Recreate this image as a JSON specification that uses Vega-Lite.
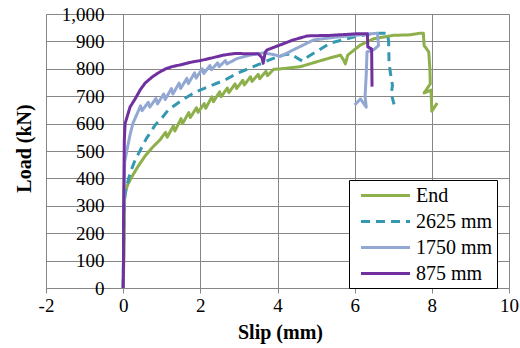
{
  "$schema": "https://vega.github.io/schema/vega-lite/v6.json",
  "width": 463,
  "height": 274,
  "autosize": {"type": "none"},
  "padding": {"left": 46, "top": 14, "right": 11, "bottom": 60},
  "background": "white",
  "config": {
    "view": {"stroke": null},
    "font": "Liberation Serif",
    "style": {
      "guide-label": {"font": "Liberation Serif", "fontSize": 19, "fill": "black"},
      "guide-title": {"font": "Liberation Serif", "fontSize": 20, "fontWeight": "bold", "fill": "black"}
    },
    "axis": {"labelFont": "Liberation Serif", "titleFont": "Liberation Serif"},
    "legend": {"labelFont": "Liberation Serif"}
  },
  "datasets": {
    "curves": [
      {"series": "End", "slip": 0, "load": 0},
      {"series": "End", "slip": 0.02, "load": 120},
      {"series": "End", "slip": 0.03, "load": 250},
      {"series": "End", "slip": 0.04, "load": 345},
      {"series": "End", "slip": 0.12, "load": 378},
      {"series": "End", "slip": 0.25, "load": 412},
      {"series": "End", "slip": 0.4, "load": 447},
      {"series": "End", "slip": 0.57, "load": 482},
      {"series": "End", "slip": 0.75, "load": 512},
      {"series": "End", "slip": 0.95, "load": 540},
      {"series": "End", "slip": 1.1, "load": 568},
      {"series": "End", "slip": 1.14, "load": 550},
      {"series": "End", "slip": 1.3, "load": 591},
      {"series": "End", "slip": 1.34, "load": 573},
      {"series": "End", "slip": 1.5, "load": 618},
      {"series": "End", "slip": 1.54, "load": 600},
      {"series": "End", "slip": 1.7, "load": 640},
      {"series": "End", "slip": 1.74, "load": 622},
      {"series": "End", "slip": 1.9, "load": 658},
      {"series": "End", "slip": 1.94, "load": 641},
      {"series": "End", "slip": 2.1, "load": 673},
      {"series": "End", "slip": 2.14, "load": 656},
      {"series": "End", "slip": 2.3, "load": 698},
      {"series": "End", "slip": 2.34, "load": 680},
      {"series": "End", "slip": 2.5, "load": 716},
      {"series": "End", "slip": 2.54, "load": 698},
      {"series": "End", "slip": 2.7, "load": 730},
      {"series": "End", "slip": 2.74, "load": 713},
      {"series": "End", "slip": 2.9, "load": 745},
      {"series": "End", "slip": 2.94, "load": 728},
      {"series": "End", "slip": 3.1, "load": 758},
      {"series": "End", "slip": 3.14, "load": 741},
      {"series": "End", "slip": 3.3, "load": 771},
      {"series": "End", "slip": 3.34, "load": 754},
      {"series": "End", "slip": 3.5, "load": 780},
      {"series": "End", "slip": 3.54, "load": 764},
      {"series": "End", "slip": 3.7, "load": 791},
      {"series": "End", "slip": 3.74, "load": 775},
      {"series": "End", "slip": 3.9, "load": 798},
      {"series": "End", "slip": 4.1, "load": 800},
      {"series": "End", "slip": 4.6, "load": 808},
      {"series": "End", "slip": 4.93, "load": 822},
      {"series": "End", "slip": 5.37, "load": 840},
      {"series": "End", "slip": 5.63, "load": 850},
      {"series": "End", "slip": 5.7, "load": 835},
      {"series": "End", "slip": 5.76, "load": 818},
      {"series": "End", "slip": 5.82, "load": 850},
      {"series": "End", "slip": 6.15, "load": 887},
      {"series": "End", "slip": 6.5, "load": 910},
      {"series": "End", "slip": 7.0, "load": 922},
      {"series": "End", "slip": 7.44, "load": 924},
      {"series": "End", "slip": 7.7, "load": 930},
      {"series": "End", "slip": 7.78, "load": 930},
      {"series": "End", "slip": 7.8, "load": 885},
      {"series": "End", "slip": 7.92, "load": 862},
      {"series": "End", "slip": 7.95, "load": 800},
      {"series": "End", "slip": 7.96, "load": 745},
      {"series": "End", "slip": 7.8, "load": 712},
      {"series": "End", "slip": 7.98, "load": 722},
      {"series": "End", "slip": 8.0, "load": 645},
      {"series": "End", "slip": 8.14, "load": 675},

      {"series": "2625 mm", "slip": 0, "load": 0},
      {"series": "2625 mm", "slip": 0.01, "load": 120},
      {"series": "2625 mm", "slip": 0.02, "load": 250},
      {"series": "2625 mm", "slip": 0.03, "load": 320},
      {"series": "2625 mm", "slip": 0.08, "load": 365},
      {"series": "2625 mm", "slip": 0.18, "load": 420},
      {"series": "2625 mm", "slip": 0.31, "load": 467},
      {"series": "2625 mm", "slip": 0.45, "load": 505},
      {"series": "2625 mm", "slip": 0.6, "load": 545},
      {"series": "2625 mm", "slip": 0.83, "load": 595},
      {"series": "2625 mm", "slip": 1.0, "load": 620},
      {"series": "2625 mm", "slip": 1.17, "load": 650},
      {"series": "2625 mm", "slip": 1.53, "load": 686},
      {"series": "2625 mm", "slip": 1.87, "load": 715},
      {"series": "2625 mm", "slip": 2.2, "load": 734},
      {"series": "2625 mm", "slip": 2.65, "load": 760},
      {"series": "2625 mm", "slip": 2.98, "load": 785},
      {"series": "2625 mm", "slip": 3.5, "load": 815},
      {"series": "2625 mm", "slip": 3.89, "load": 838},
      {"series": "2625 mm", "slip": 4.07, "load": 848},
      {"series": "2625 mm", "slip": 4.35, "load": 855},
      {"series": "2625 mm", "slip": 4.5, "load": 840},
      {"series": "2625 mm", "slip": 4.65, "load": 828},
      {"series": "2625 mm", "slip": 4.8, "load": 845},
      {"series": "2625 mm", "slip": 5.37, "load": 894},
      {"series": "2625 mm", "slip": 5.97, "load": 916},
      {"series": "2625 mm", "slip": 6.3, "load": 925},
      {"series": "2625 mm", "slip": 6.67, "load": 930},
      {"series": "2625 mm", "slip": 6.85, "load": 930},
      {"series": "2625 mm", "slip": 6.88, "load": 900},
      {"series": "2625 mm", "slip": 6.89, "load": 830},
      {"series": "2625 mm", "slip": 6.92, "load": 790},
      {"series": "2625 mm", "slip": 6.98, "load": 740},
      {"series": "2625 mm", "slip": 6.95, "load": 710},
      {"series": "2625 mm", "slip": 7.02, "load": 670},

      {"series": "1750 mm", "slip": 0, "load": 0},
      {"series": "1750 mm", "slip": 0.01, "load": 150},
      {"series": "1750 mm", "slip": 0.02, "load": 320},
      {"series": "1750 mm", "slip": 0.04, "load": 460},
      {"series": "1750 mm", "slip": 0.1, "load": 505},
      {"series": "1750 mm", "slip": 0.18, "load": 560},
      {"series": "1750 mm", "slip": 0.25, "load": 600},
      {"series": "1750 mm", "slip": 0.39, "load": 645},
      {"series": "1750 mm", "slip": 0.45, "load": 665},
      {"series": "1750 mm", "slip": 0.49, "load": 647},
      {"series": "1750 mm", "slip": 0.65, "load": 678},
      {"series": "1750 mm", "slip": 0.69, "load": 660},
      {"series": "1750 mm", "slip": 0.85, "load": 692},
      {"series": "1750 mm", "slip": 0.89, "load": 672},
      {"series": "1750 mm", "slip": 1.05, "load": 708},
      {"series": "1750 mm", "slip": 1.09, "load": 688},
      {"series": "1750 mm", "slip": 1.25, "load": 728},
      {"series": "1750 mm", "slip": 1.29, "load": 708},
      {"series": "1750 mm", "slip": 1.45, "load": 748},
      {"series": "1750 mm", "slip": 1.49, "load": 728},
      {"series": "1750 mm", "slip": 1.65, "load": 765},
      {"series": "1750 mm", "slip": 1.69, "load": 746},
      {"series": "1750 mm", "slip": 1.85, "load": 785},
      {"series": "1750 mm", "slip": 1.89, "load": 766},
      {"series": "1750 mm", "slip": 2.05, "load": 800},
      {"series": "1750 mm", "slip": 2.09, "load": 783},
      {"series": "1750 mm", "slip": 2.25, "load": 812},
      {"series": "1750 mm", "slip": 2.29, "load": 797},
      {"series": "1750 mm", "slip": 2.45, "load": 822},
      {"series": "1750 mm", "slip": 2.49, "load": 808},
      {"series": "1750 mm", "slip": 2.65, "load": 830},
      {"series": "1750 mm", "slip": 2.69, "load": 818},
      {"series": "1750 mm", "slip": 2.96, "load": 838},
      {"series": "1750 mm", "slip": 3.29, "load": 850},
      {"series": "1750 mm", "slip": 3.63, "load": 858},
      {"series": "1750 mm", "slip": 3.9, "load": 852},
      {"series": "1750 mm", "slip": 4.07, "load": 845},
      {"series": "1750 mm", "slip": 4.41, "load": 869},
      {"series": "1750 mm", "slip": 4.93, "load": 905},
      {"series": "1750 mm", "slip": 5.55, "load": 916},
      {"series": "1750 mm", "slip": 6.07, "load": 923},
      {"series": "1750 mm", "slip": 6.59, "load": 930},
      {"series": "1750 mm", "slip": 6.62, "load": 885},
      {"series": "1750 mm", "slip": 6.5, "load": 870},
      {"series": "1750 mm", "slip": 6.32, "load": 862},
      {"series": "1750 mm", "slip": 6.3, "load": 780},
      {"series": "1750 mm", "slip": 6.27, "load": 700},
      {"series": "1750 mm", "slip": 6.3, "load": 660},
      {"series": "1750 mm", "slip": 6.15, "load": 690},
      {"series": "1750 mm", "slip": 6.0, "load": 668},

      {"series": "875 mm", "slip": 0, "load": 0},
      {"series": "875 mm", "slip": 0.01, "load": 100},
      {"series": "875 mm", "slip": 0.01, "load": 250},
      {"series": "875 mm", "slip": 0.02, "load": 400},
      {"series": "875 mm", "slip": 0.03, "load": 540},
      {"series": "875 mm", "slip": 0.05, "load": 600},
      {"series": "875 mm", "slip": 0.18, "load": 661},
      {"series": "875 mm", "slip": 0.31, "load": 690},
      {"series": "875 mm", "slip": 0.45, "load": 725},
      {"series": "875 mm", "slip": 0.57, "load": 748},
      {"series": "875 mm", "slip": 0.75, "load": 770},
      {"series": "875 mm", "slip": 0.91, "load": 785},
      {"series": "875 mm", "slip": 1.1, "load": 800},
      {"series": "875 mm", "slip": 1.27, "load": 808},
      {"series": "875 mm", "slip": 1.5, "load": 815},
      {"series": "875 mm", "slip": 1.79, "load": 825},
      {"series": "875 mm", "slip": 2.0, "load": 830},
      {"series": "875 mm", "slip": 2.31, "load": 840},
      {"series": "875 mm", "slip": 2.6, "load": 850},
      {"series": "875 mm", "slip": 2.9, "load": 856},
      {"series": "875 mm", "slip": 3.2, "load": 855},
      {"series": "875 mm", "slip": 3.5, "load": 855},
      {"series": "875 mm", "slip": 3.6, "load": 840},
      {"series": "875 mm", "slip": 3.63, "load": 820},
      {"series": "875 mm", "slip": 3.68, "load": 860},
      {"series": "875 mm", "slip": 3.73, "load": 869},
      {"series": "875 mm", "slip": 4.07, "load": 887},
      {"series": "875 mm", "slip": 4.4, "load": 905},
      {"series": "875 mm", "slip": 4.77, "load": 920},
      {"series": "875 mm", "slip": 5.37, "load": 922},
      {"series": "875 mm", "slip": 6.07, "load": 928},
      {"series": "875 mm", "slip": 6.33, "load": 928},
      {"series": "875 mm", "slip": 6.34, "load": 880},
      {"series": "875 mm", "slip": 6.44, "load": 872},
      {"series": "875 mm", "slip": 6.45, "load": 735}
    ]
  },
  "data": {"name": "curves"},
  "mark": {"type": "line", "strokeWidth": 3, "strokeJoin": "round"},
  "encoding": {
    "x": {
      "field": "slip",
      "type": "quantitative",
      "scale": {"domain": [-2, 10], "nice": false, "zero": false},
      "axis": {
        "title": "Slip (mm)",
        "values": [-2, 0, 2, 4, 6, 8, 10],
        "labelExpr": "'' + datum.value",
        "grid": true,
        "gridColor": "#868686",
        "domainColor": "#868686",
        "tickColor": "#868686",
        "tickSize": 5,
        "labelFont": "Liberation Serif",
        "labelFontSize": 19,
        "labelColor": "black",
        "labelPadding": 3,
        "labelFlush": false,
        "labelOverlap": false,
        "titleFont": "Liberation Serif",
        "titleFontSize": 20,
        "titleFontWeight": "bold",
        "titleColor": "black",
        "titleX": 234,
        "titleY": 50,
        "titleBaseline": "alphabetic"
      }
    },
    "y": {
      "field": "load",
      "type": "quantitative",
      "scale": {"domain": [0, 1000], "nice": false},
      "axis": {
        "title": "Load (kN)",
        "values": [0, 100, 200, 300, 400, 500, 600, 700, 800, 900, 1000],
        "format": ",d",
        "grid": true,
        "gridColor": "#868686",
        "domainColor": "#868686",
        "ticks": false,
        "tickSize": 0,
        "labelFont": "Liberation Serif",
        "labelFontSize": 19,
        "labelColor": "black",
        "labelAlign": "right",
        "labelBaseline": "middle",
        "labelPadding": -58,
        "labelFlush": false,
        "labelOverlap": false,
        "titleFont": "Liberation Serif",
        "titleFontSize": 20,
        "titleFontWeight": "bold",
        "titleColor": "black",
        "titleX": -16,
        "titleY": 134,
        "titleBaseline": "alphabetic"
      }
    },
    "color": {
      "field": "series",
      "type": "nominal",
      "sort": null,
      "scale": {
        "domain": ["End", "2625 mm", "1750 mm", "875 mm"],
        "range": ["#8DB04B", "#3498B2", "#92A8D3", "#7030A0"]
      },
      "legend": {
        "title": null,
        "orient": "none",
        "legendX": 303,
        "legendY": 166,
        "direction": "vertical",
        "symbolType": "M-2.5,0H2.5",
        "symbolSize": 384,
        "symbolStrokeWidth": 3,
        "labelFont": "Liberation Serif",
        "labelFontSize": 20,
        "labelColor": "black",
        "labelLimit": 300,
        "fillColor": "white",
        "strokeColor": "black",
        "padding": 4,
        "rowPadding": 4,
        "symbolOffset": 21,
        "labelOffset": 19
      }
    },
    "strokeDash": {
      "field": "series",
      "type": "nominal",
      "sort": null,
      "scale": {
        "domain": ["End", "2625 mm", "1750 mm", "875 mm"],
        "range": [[1, 0], [9, 6], [1, 0], [1, 0]]
      },
      "legend": {
        "title": null,
        "orient": "none",
        "legendX": 303,
        "legendY": 166,
        "direction": "vertical",
        "symbolType": "M-2.5,0H2.5",
        "symbolSize": 384,
        "symbolStrokeWidth": 3,
        "labelFont": "Liberation Serif",
        "labelFontSize": 20,
        "labelColor": "black",
        "labelLimit": 300,
        "fillColor": "white",
        "strokeColor": "black",
        "padding": 4,
        "rowPadding": 4,
        "symbolOffset": 21,
        "labelOffset": 19
      }
    },
    "order": {"value": null}
  }
}
